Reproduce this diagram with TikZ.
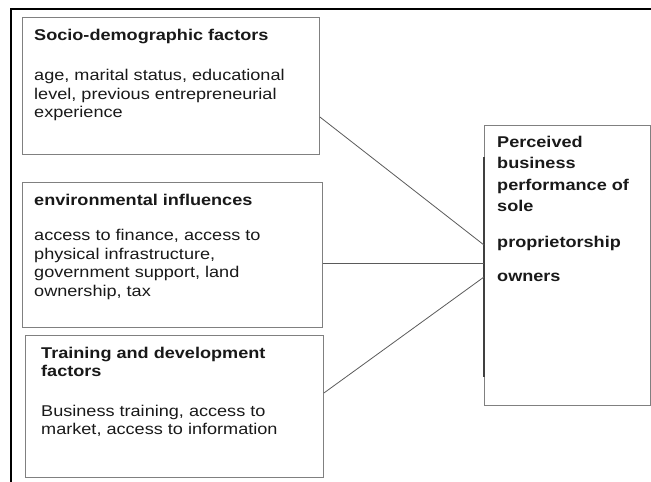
\documentclass[tikz,border=0pt]{standalone}
\usepackage{fontspec}
\setmainfont{Liberation Sans}[FakeStretch=1.16]
\usetikzlibrary{positioning}
\definecolor{boxgray}{RGB}{128,128,128}
\definecolor{linkgray}{RGB}{90,90,90}

\begin{document}
\begin{tikzpicture}[x=1pt,y=-1pt,
    factor/.style={draw=boxgray, line width=0.9pt, inner sep=0pt, anchor=north west},
    boxtext/.style={inner sep=0pt, anchor=north west, align=left, text=black!90,
      font=\fontsize{15.6}{18.5}\selectfont},
    link/.style={draw=linkgray, line width=0.8pt}]
  \useasboundingbox (0,0) rectangle (651,482);
  % outer frame, running off the page
  \draw[line width=1.2pt] (11,482) -- (11,9) -- (651,9);

  % factor boxes
  \node[factor, minimum width=297pt, minimum height=137pt] (socio) at (22,17) {};
  \node[factor, minimum width=300pt, minimum height=145pt] (env) at (22,182) {};
  \node[factor, minimum width=298pt, minimum height=142pt] (train) at (25,335) {};
  \node[boxtext] (sociotext) at (34,28.5) {\textbf{Socio-demographic factors}\\[22pt]
    age, marital status, educational\\ level, previous entrepreneurial\\ experience};
  \node[boxtext] (envtext) at (34,193.5) {\textbf{environmental influences}\\[17pt]
    access to finance, access to\\ physical infrastructure,\\
    government support, land\\ ownership, tax};
  \node[boxtext] (traintext) at (41,346.5) {\textbf{Training and development}\\
    \textbf{factors}\\[21pt]
    Business training, access to\\ market, access to information};

  % outcome box
  \node[factor, minimum width=166pt, minimum height=280pt] (perf) at (484,125) {};
  \draw[line width=1.3pt, black!75] (perf.north west |- 0,157) -- (perf.north west |- 0,377);
  \node[boxtext, font=\fontsize{15.6}{21.5}\selectfont\bfseries] (perftext) at (497,135.5)
    {Perceived\\ business\\ performance of\\ sole\\[14.5pt] proprietorship\\[12.5pt] owners};

  % links
  \draw[link] (socio.north east |- 0,117) -- (perf.north west |- 0,245);
  \draw[link] (env.north east |- 0,263) -- (perf.north west |- 0,263);
  \draw[link] (train.north east |- 0,393) -- (perf.north west |- 0,277);
\end{tikzpicture}
\end{document}
